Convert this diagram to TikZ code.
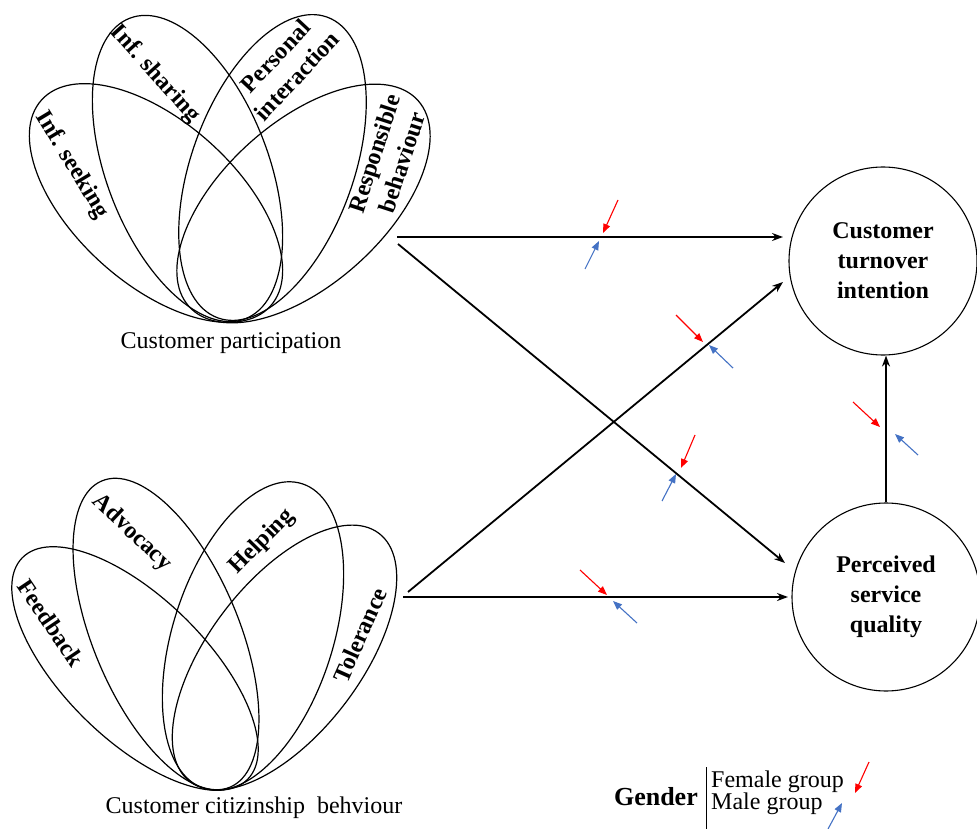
\documentclass[tikz,border=0pt]{standalone}
\usepackage{fontspec}
\setmainfont{Liberation Serif}
\usetikzlibrary{arrows.meta,calc}
\definecolor{mblue}{RGB}{68,114,196}
\definecolor{mred}{RGB}{255,0,0}
\tikzset{
  petal/.style={draw, line width=1.2pt},
  mainarrow/.style={line width=1.8pt, -{Stealth[length=11pt,width=8pt]}},
  femark/.style={line width=1.1pt, draw=mred, -{Triangle[length=9pt,width=7pt]}},
  mamark/.style={line width=1.1pt, draw=mblue, -{Triangle[length=9pt,width=7pt]}},
  lab/.style={font=\fontsize{24}{29}\selectfont\bfseries, align=center, inner sep=0pt},
  construct/.style={circle, draw, line width=1.1pt, minimum size=188pt, inner sep=0pt,
    font=\fontsize{24}{30}\selectfont\bfseries, align=center},
  plain/.style={font=\fontsize{24}{28}\selectfont, inner sep=0pt},
}
% centre x, centre y, rotation, semi-major (vertical), semi-minor
\newcommand\mypetal[5]{%
  \begin{scope}[shift={(#1,#2)},rotate=#3]
    \draw[petal] (0,0) ellipse [x radius=#5, y radius=#4];
  \end{scope}}
\begin{document}
\begin{tikzpicture}[x=1pt,y=1pt]
\useasboundingbox (0,0) rectangle (977,-829);

% top petal group: Customer participation
\mypetal{156}{-203}{48}{154}{81}
\mypetal{187.5}{-168.5}{21}{161}{81}
\mypetal{272.5}{-167.5}{-20}{160}{81}
\mypetal{303.5}{-203.5}{-48}{154}{81}
\node[lab, rotate=-59] (infseek) at (72,-165) {Inf. seeking};
\node[lab, rotate=-48] (infshare) at (155,-74) {Inf. sharing};
\node[lab, rotate=47] (persint) at (286,-66) {Personal\\interaction};
\node[lab, rotate=72] (resp) at (388,-158) {Responsible\\behaviour};
\node[plain] (cp) at (231,-343) {Customer participation};

% bottom petal group: Customer citizenship behaviour
\mypetal{135}{-668.5}{45.5}{158}{71}
\mypetal{166}{-634}{22.7}{166}{73}
\mypetal{253}{-636}{-17.9}{160}{80}
\mypetal{284.5}{-657.5}{-37.3}{156}{76}
\node[lab, rotate=-56] (feed) at (51,-623) {Feedback};
\node[lab, rotate=-43.5] (advo) at (132,-533) {Advocacy};
\node[lab, rotate=45.5] (help) at (262,-542) {Helping};
\node[lab, rotate=66] (tol) at (360,-635) {Tolerance};
\node[plain] (ccb) at (254,-808) {Customer citizinship~~behviour};

% outcome constructs
\node[construct] (cti) at (883,-261) {Customer\\turnover\\intention};
\node[construct] (psq) at (886,-597) {Perceived\\service\\quality};

% connector end points
\coordinate (cpA) at (397,-237);
\coordinate (cpB) at (398,-244);
\coordinate (cbA) at (408,-592);
\coordinate (cbB) at (403,-597);
\coordinate (ctiA) at (783,-237);
\coordinate (psqA) at (785,-563);
\coordinate (ctiB) at (783,-282);
\coordinate (psqB) at (788,-597);

\draw[mainarrow] (cpA) -- (ctiA);
\draw[mainarrow] (cpB) -- (psqA);
\draw[mainarrow] (cbA) -- (ctiB);
\draw[mainarrow] (cbB) -- (psqB);
\draw[mainarrow] (psq.north) -- (psq.north |- cti.south);

% gender marks
\coordinate (r1s) at (618,-200); \coordinate (r1e) at (603,-233);
\coordinate (b1s) at (585,-269); \coordinate (b1e) at (599,-241);
\coordinate (r2s) at (695,-435); \coordinate (r2e) at (681,-468);
\coordinate (b2s) at (662,-501); \coordinate (b2e) at (676,-474);
\coordinate (r3s) at (676,-315); \coordinate (r3e) at (703,-342);
\coordinate (b3s) at (733,-368); \coordinate (b3e) at (709,-345);
\coordinate (r4s) at (580,-570); \coordinate (r4e) at (607,-595);
\coordinate (b4s) at (637,-623); \coordinate (b4e) at (613,-601);
\coordinate (r5s) at (853,-402); \coordinate (r5e) at (880,-427);
\coordinate (b5s) at (918,-455); \coordinate (b5e) at (895,-434);
\draw[femark] (r1s) -- (r1e); \draw[mamark] (b1s) -- (b1e);
\draw[femark] (r2s) -- (r2e); \draw[mamark] (b2s) -- (b2e);
\draw[femark] (r3s) -- (r3e); \draw[mamark] (b3s) -- (b3e);
\draw[femark] (r4s) -- (r4e); \draw[mamark] (b4s) -- (b4e);
\draw[femark] (r5s) -- (r5e); \draw[mamark] (b5s) -- (b5e);

% legend
\node[font=\fontsize{26}{30}\selectfont\bfseries, anchor=base east, inner sep=0pt] (gender) at (698,-805) {Gender};
\coordinate (lgt) at (706,-767);
\coordinate (lgb) at (706,-829);
\draw[line width=1pt] (lgt) -- (lgb);
\node[plain, anchor=base west] (fem) at (711,-787) {Female group};
\node[plain, anchor=base west] (male) at (711,-809) {Male group};
\coordinate (lrs) at (869,-762); \coordinate (lre) at (855,-793);
\coordinate (lbs) at (828,-829); \coordinate (lbe) at (842,-803);
\draw[femark] (lrs) -- (lre);
\draw[mamark] (lbs) -- (lbe);
\end{tikzpicture}
\end{document}
